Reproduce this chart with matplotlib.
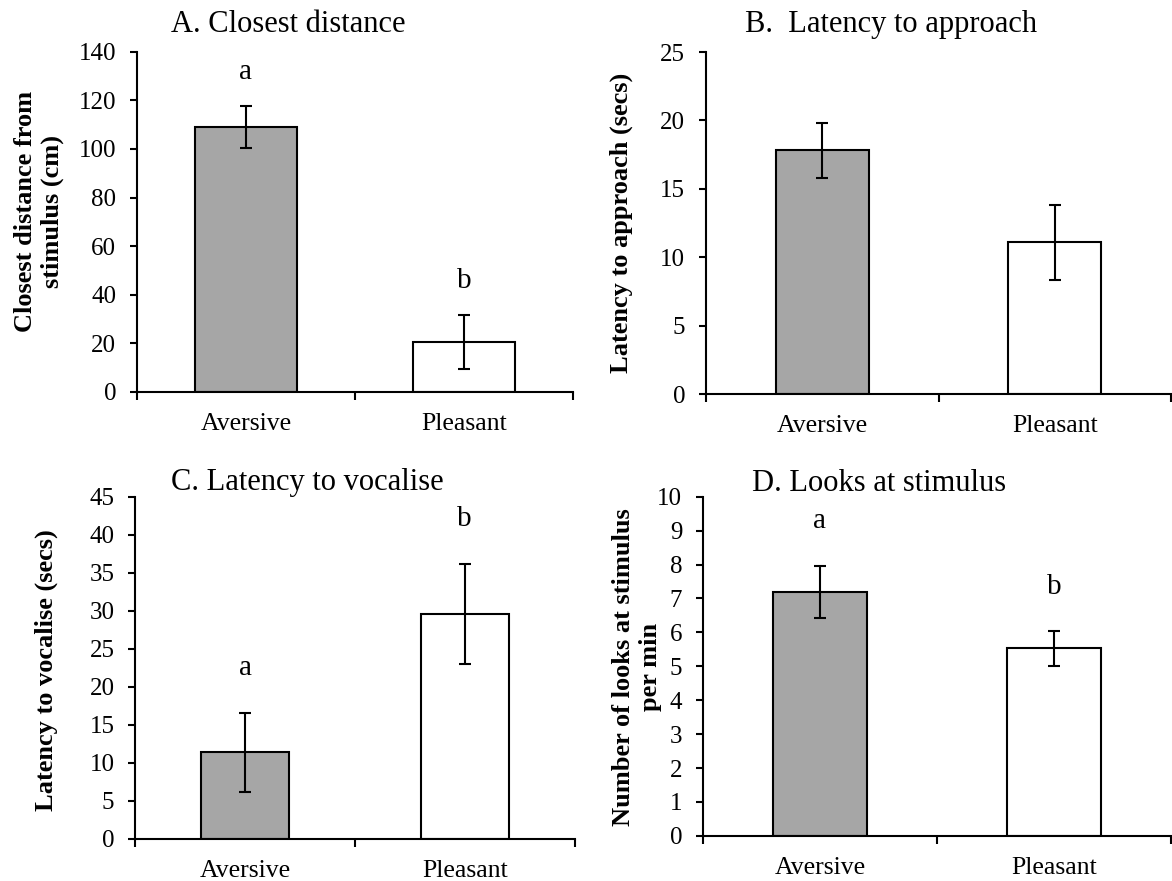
import numpy as np
import matplotlib.pyplot as plt

plt.rcParams['font.family'] = ['Liberation Serif', 'DejaVu Serif']

categories = ['Aversive', 'Pleasant']
colors = ['#a6a6a6', 'white']

closest_mean = [109.0, 20.5]
closest_se = [8.6, 11.1]
approach_mean = [17.8, 11.1]
approach_se = [2.0, 2.75]
vocalise_mean = [11.4, 29.6]
vocalise_se = [5.2, 6.6]
looks_mean = [7.2, 5.53]
looks_se = [0.77, 0.51]

letters_closest = ['a', 'b']
letters_vocalise = ['a', 'b']
letters_looks = ['a', 'b']

W, H = 1172, 881
fig = plt.figure(figsize=(W / 100, H / 100), dpi=100)

# axes boxes in pixels: left, right, top, bottom
panels = [
    dict(box=(137, 573, 51.7, 392), mean=closest_mean, se=closest_se, ymax=140, step=20,
         bw=0.47, letters=letters_closest, loff=0.08,
         title='A. Closest distance', txy=(288, 32),
         ylabel='Closest distance from\nstimulus (cm)', lxy=(39, 211)),
    dict(box=(706, 1171, 52, 394), mean=approach_mean, se=approach_se, ymax=25, step=5,
         bw=0.40, letters=None, loff=0,
         title='B.  Latency to approach', txy=(891, 32),
         ylabel='Latency to approach (secs)', lxy=(621, 223)),
    dict(box=(135.3, 574.5, 496.7, 838.7), mean=vocalise_mean, se=vocalise_se, ymax=45, step=5,
         bw=0.40, letters=letters_vocalise, loff=0.11,
         title='C. Latency to vocalise', txy=(307, 490),
         ylabel='Latency to vocalise (secs)', lxy=(46, 670)),
    dict(box=(703, 1171, 496.7, 835.9), mean=looks_mean, se=looks_se, ymax=10, step=1,
         bw=0.40, letters=letters_looks, loff=0.11,
         title='D. Looks at stimulus', txy=(879, 490.5),
         ylabel='Number of looks at stimulus\nper min', lxy=(637, 667)),
]

x = np.arange(len(categories))

for p in panels:
    l, r, t, b = p['box']
    ax = fig.add_axes([l / W, 1 - b / H, (r - l) / W, (b - t) / H])
    mean, se, ymax = p['mean'], p['se'], p['ymax']
    ax.bar(x, mean, width=p['bw'], color=colors, edgecolor='black', linewidth=1.5, zorder=2)
    ax.errorbar(x, mean, yerr=se, fmt='none', ecolor='black', elinewidth=1.5,
                capsize=4.5, capthick=1.5, zorder=3)
    if p['letters']:
        for xi, m, s, txt in zip(x, mean, se, p['letters']):
            ax.text(xi, m + s + p['loff'] * ymax, txt, ha='center', va='baseline', fontsize=21)

    ax.set_xlim(-0.5, 1.5)
    ax.set_ylim(0, ymax)
    ax.set_yticks(np.arange(0, ymax + p['step'] / 2, p['step']))
    ax.set_xticks(x)
    ax.set_xticklabels(categories)
    ax.set_xticks([-0.5, 0.5, 1.5], minor=True)
    ax.tick_params(axis='x', which='major', length=0, pad=15, labelsize=18.5)
    ax.tick_params(axis='x', which='minor', length=5.5, width=1.5, direction='out')
    ax.tick_params(axis='y', length=5, width=1.5, direction='out', pad=10, labelsize=18)
    for sp in ['top', 'right']:
        ax.spines[sp].set_visible(False)
    for sp in ['left', 'bottom']:
        ax.spines[sp].set_linewidth(1.5)

    tx, ty = p['txy']
    fig.text(tx / W, 1 - ty / H, p['title'], ha='center', va='baseline', fontsize=22)
    lx, ly = p['lxy']
    fig.text(lx / W, 1 - ly / H, p['ylabel'], ha='center', va='center', rotation=90,
             fontsize=19, fontweight='bold', linespacing=1.2, multialignment='center')

fig.savefig('out.png', dpi=100)
